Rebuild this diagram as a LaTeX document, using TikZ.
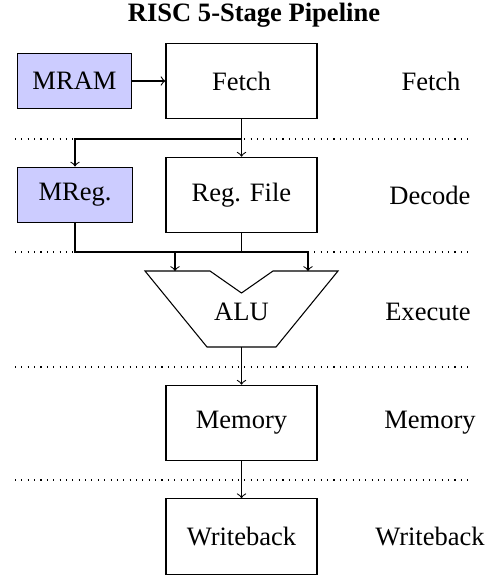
\documentclass[tikz,border=0pt]{standalone}
\usepackage{fontspec}
\setmainfont{Liberation Serif}
\begin{document}
\begin{tikzpicture}[x=0.013245cm, y=-0.013245cm,
  stage/.style={draw, minimum width=2cm, minimum height=1cm, inner sep=0pt},
  mbox/.style={draw, fill=blue!20, minimum width=1.52cm, minimum height=0.74cm, inner sep=0pt},
  lbl/.style={inner sep=0pt},
  sep/.style={dotted},
  conn/.style={->}]
\useasboundingbox (0,0) rectangle (490,577);
% separators
\draw[sep] (15,139) -- (470,139);
\draw[sep] (15,252) -- (470,252);
\draw[sep] (15,367) -- (470,367);
\draw[sep] (15,480) -- (470,480);
% title
\node[lbl, font=\bfseries] (title) at (254,15) {RISC 5-Stage Pipeline};
% nodes
\node[mbox] (mram) at (74.5,81) {MRAM};
\node[stage] (fetch) at (241.5,81) {Fetch};
\node[lbl] (fetchL) at (431,81) {Fetch};
\node[mbox] (mreg) at (75,195) {MReg.};
\node[stage] (regfile) at (241.5,195) {Reg. File};
\node[lbl] (decodeL) at (430,195) {Decode};
\draw (145,271) -- (210,271) -- (241.5,293) -- (273,271) -- (338,271)
      -- (276,347) -- (207,347) -- cycle;
\node[lbl] (alu) at (241.5,312) {ALU};
\node[lbl] (executeL) at (428,312) {Execute};
\coordinate (aluA) at (175,271);
\coordinate (aluB) at (308,271);
\coordinate (aluOut) at (241.5,347);
\node[stage] (mem) at (241.5,423) {Memory};
\node[lbl] (memL) at (430,423) {Memory};
\node[stage] (wb) at (241.5,536.5) {Writeback};
\node[lbl] (wbL) at (430,536.5) {Writeback};
% connectors
\coordinate (split) at (241.5,139);
\coordinate (busL) at (75,252);
\coordinate (busR) at (308,252);
\coordinate (busM) at (241.5,252);
\coordinate (busA) at (175,252);
\draw[conn] (mram) -- (fetch);
\draw (fetch.south) -- (split);
\draw[conn] (split) -| (mreg.north);
\draw[conn] (split) -- (regfile.north);
\draw (mreg.south) -- (busL) -- (busR);
\draw (regfile.south) -- (busM);
\draw[conn] (busA) -- (aluA);
\draw[conn] (busR) -- (aluB);
\draw[conn] (aluOut) -- (mem.north);
\draw[conn] (mem.south) -- (wb.north);
\end{tikzpicture}
\end{document}
